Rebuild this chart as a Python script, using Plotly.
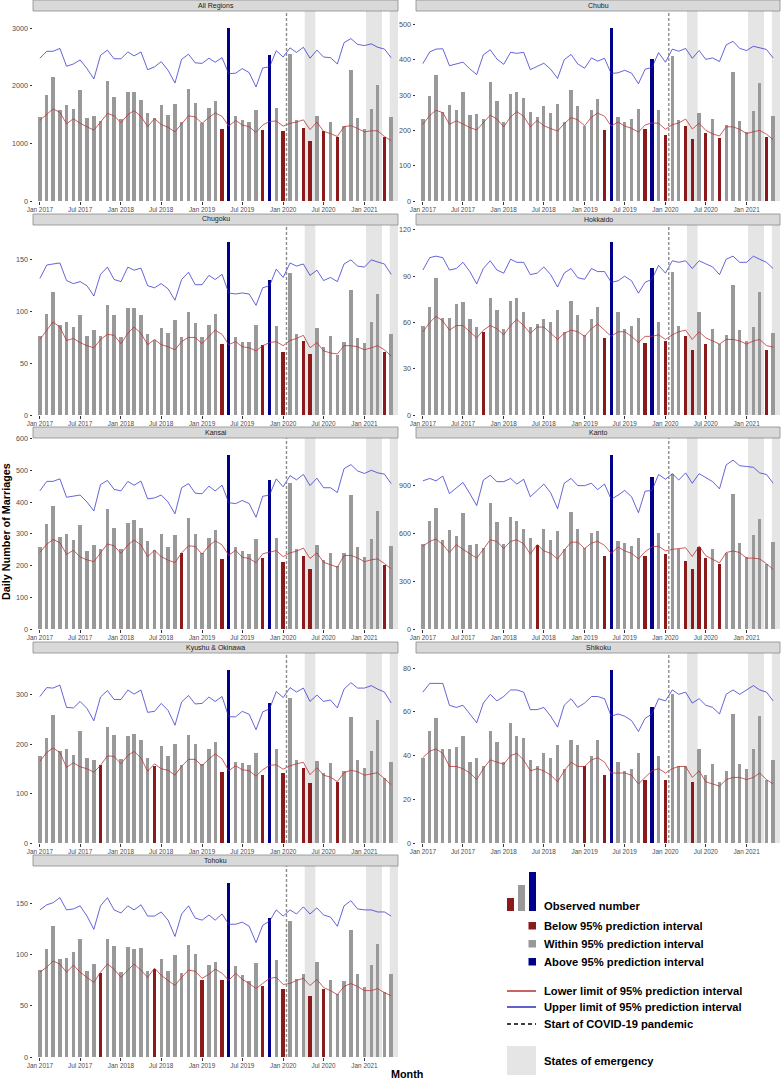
import plotly.graph_objects as go
import pandas as pd

# ---------------- data ----------------
MONTHS = pd.date_range("2017-01-01", "2021-05-01", freq="MS")
X_TICK_START = "2017-01-01"
X_RANGE = ["2016-12-01", "2021-06-01"]
COVID_START = "2020-01-16"
EMERGENCY_STARTS = ["2020-04-07", "2021-01-08", "2021-04-25"]
EMERGENCY_ENDS = ["2020-05-25", "2021-03-21", "2021-06-01"]

PANEL_NAMES = ["All Regions", "Chubu", "Chugoku", "Hokkaido", "Kansai", "Kanto",
               "Kyushu &amp; Okinawa", "Shikoku", "Tohoku"]
Y_DTICKS = [1000, 100, 50, 30, 100, 300, 100, 20, 50]

ALL_OBS = [1460, 1840, 2160, 1580, 1670, 1600, 1930, 1450, 1480, 1390, 2090, 1810, 1430, 1890, 1890, 1760, 1530, 1440,
           1670, 1500, 1690, 1370, 1940, 1700, 1350, 1620, 1730, 1250, 3000, 1480, 1410, 1380, 1580, 1240, 2540, 1620,
           1210, 2560, 1400, 1260, 1050, 1480, 1210, 1380, 1110, 1310, 2280, 1440, 1250, 1600, 2010, 1120, 1460]
ALL_LO = [1400, 1510, 1600, 1540, 1340, 1430, 1350, 1290, 1230, 1370, 1520, 1480, 1360, 1500, 1570, 1470, 1290, 1430,
          1330, 1280, 1200, 1340, 1480, 1460, 1350, 1450, 1530, 1470, 1300, 1400, 1320, 1290, 1190, 1320, 1380, 1390,
          1300, 1350, 1370, 1410, 1240, 1370, 1210, 1170, 1120, 1290, 1310, 1260, 1200, 1220, 1220, 1120, 1050]
ALL_HI = [2480, 2600, 2600, 2650, 2340, 2380, 2450, 2300, 2120, 2530, 2620, 2470, 2470, 2590, 2520, 2590, 2280, 2330,
          2420, 2270, 2050, 2460, 2550, 2400, 2390, 2480, 2410, 2490, 2210, 2220, 2300, 2230, 1980, 2310, 2330, 2610,
          2500, 2660, 2580, 2670, 2480, 2620, 2500, 2490, 2380, 2750, 2820, 2720, 2700, 2730, 2670, 2640, 2490]
ALL_BELOW = [27, 33, 36, 39, 40, 42, 44, 51]

CHUBU_OBS = [232, 297, 357, 253, 272, 259, 310, 244, 245, 232, 337, 283, 224, 304, 309, 291, 251, 238, 270, 250, 276,
             225, 315, 270, 213, 258, 288, 202, 489, 239, 225, 233, 260, 203, 403, 257, 188, 410, 228, 213, 176, 248,
             192, 233, 179, 216, 365, 226, 195, 255, 333, 181, 240]
CHUBU_LO = [217, 242, 257, 250, 217, 227, 218, 208, 201, 222, 243, 232, 210, 238, 253, 240, 210, 228, 213, 205, 198,
            219, 236, 230, 213, 237, 249, 240, 212, 224, 212, 206, 195, 215, 221, 220, 203, 216, 221, 232, 204, 220,
            200, 190, 184, 210, 210, 203, 191, 196, 200, 189, 174]
CHUBU_HI = [389, 422, 430, 431, 383, 389, 393, 374, 358, 414, 428, 402, 387, 421, 418, 421, 372, 381, 390, 373, 347,
            400, 415, 388, 376, 405, 396, 404, 361, 363, 370, 362, 332, 373, 378, 420, 393, 430, 424, 432, 404, 426,
            401, 405, 395, 442, 452, 432, 426, 438, 433, 429, 405]
CHUBU_BELOW = [27, 33, 36, 39, 40, 42, 44, 51]

CHUGOKU_OBS = [76, 98, 119, 87, 90, 85, 97, 76, 82, 76, 106, 97, 75, 103, 103, 97, 78, 73, 84, 79, 92, 75, 100, 89,
               75, 87, 98, 69, 167, 75, 71, 71, 87, 68, 131, 86, 61, 137, 78, 72, 59, 84, 66, 76, 58, 71, 121, 74,
               70, 90, 117, 61, 78]
CHUGOKU_LO = [73, 82, 90, 85, 72, 74, 70, 67, 65, 73, 78, 77, 69, 79, 85, 79, 68, 73, 68, 66, 63, 71, 75, 75, 69, 76,
              82, 78, 68, 71, 66, 65, 62, 67, 70, 71, 67, 72, 74, 77, 65, 70, 62, 60, 59, 67, 67, 66, 63, 65, 67, 63,
              57]
CHUGOKU_HI = [132, 145, 146, 147, 130, 127, 129, 125, 115, 136, 143, 131, 129, 143, 140, 142, 125, 123, 127, 122, 111,
              131, 138, 126, 126, 135, 131, 136, 118, 117, 118, 117, 106, 123, 125, 141, 133, 147, 144, 146, 135, 140,
              130, 133, 129, 146, 150, 144, 143, 150, 148, 146, 136]
CHUGOKU_BELOW = [27, 33, 36, 39, 40, 51]

HOKKAIDO_OBS = [58, 70, 89, 63, 63, 72, 73, 62, 57, 54, 76, 68, 56, 74, 76, 67, 57, 59, 62, 60, 68, 54, 74, 65, 52,
                62, 70, 50, 112, 67, 56, 58, 63, 47, 95, 60, 48, 93, 58, 51, 42, 67, 46, 56, 46, 52, 84, 55, 48, 57,
                80, 42, 53]
HOKKAIDO_LO = [54, 60, 64, 61, 55, 58, 58, 54, 50, 55, 58, 56, 52, 58, 62, 58, 53, 57, 57, 53, 49, 53, 55, 54, 51,
               56, 59, 55, 51, 54, 54, 51, 47, 51, 51, 52, 49, 52, 54, 55, 49, 54, 50, 48, 46, 49, 49, 48, 46, 48, 49,
               45, 44]
HOKKAIDO_HI = [94, 102, 103, 102, 94, 95, 99, 93, 85, 95, 100, 94, 92, 101, 99, 99, 91, 92, 96, 91, 83, 92, 95, 89,
               88, 95, 93, 93, 86, 87, 90, 87, 79, 86, 88, 97, 92, 100, 99, 100, 95, 100, 98, 96, 91, 101, 103, 99, 99,
               103, 101, 99, 95]
HOKKAIDO_BELOW = [9, 27, 33, 36, 39, 40, 42, 51]

KANSAI_OBS = [259, 331, 388, 290, 298, 281, 329, 245, 264, 252, 377, 317, 253, 335, 343, 317, 276, 248, 299, 257, 296,
              241, 350, 300, 240, 288, 311, 219, 547, 259, 245, 237, 283, 223, 470, 286, 210, 459, 251, 230, 190, 266,
              217, 240, 197, 240, 423, 257, 227, 284, 373, 203, 263]
KANSAI_LO = [241, 267, 282, 272, 235, 248, 227, 218, 212, 240, 268, 262, 238, 265, 280, 265, 228, 248, 228, 217, 209,
             240, 262, 260, 236, 262, 278, 265, 232, 248, 226, 222, 209, 237, 243, 247, 228, 240, 245, 255, 222, 240,
             210, 202, 195, 231, 232, 224, 212, 218, 221, 206, 190]
KANSAI_HI = [435, 465, 465, 473, 415, 418, 422, 400, 372, 455, 468, 440, 435, 465, 453, 466, 410, 413, 422, 400, 363,
             445, 458, 428, 426, 450, 435, 453, 398, 395, 405, 395, 352, 418, 422, 473, 448, 483, 470, 487, 452, 475,
             445, 445, 430, 505, 518, 498, 490, 500, 492, 488, 458]
KANSAI_BELOW = [21, 27, 33, 36, 39, 40, 51]

KANTO_OBS = [535, 680, 760, 560, 620, 585, 730, 530, 535, 510, 790, 670, 535, 700, 680, 630, 570, 530, 625, 560, 615,
             500, 735, 630, 510, 605, 615, 460, 1090, 550, 540, 520, 570, 460, 955, 605, 470, 975, 505, 430, 375, 515,
             445, 505, 405, 480, 850, 540, 450, 590, 690, 405, 545]
KANTO_LO = [520, 550, 565, 530, 480, 530, 500, 475, 445, 500, 560, 550, 505, 550, 560, 535, 470, 530, 490, 475, 440,
            495, 545, 545, 505, 540, 550, 525, 475, 515, 490, 475, 440, 485, 515, 520, 490, 500, 505, 510, 455, 520,
            460, 440, 415, 480, 490, 480, 445, 445, 440, 410, 375]
KANTO_HI = [930, 945, 930, 960, 850, 885, 920, 850, 775, 935, 965, 925, 925, 945, 910, 940, 830, 870, 910, 855, 755,
            915, 945, 900, 900, 915, 875, 910, 815, 840, 870, 830, 730, 865, 870, 970, 940, 975, 935, 980, 915, 975,
            950, 925, 880, 1030, 1060, 1025, 1020, 1015, 980, 970, 915]
KANTO_BELOW = [17, 27, 33, 36, 39, 40, 41, 42, 44]

KYUSHU_OBS = [176, 212, 259, 186, 189, 177, 227, 171, 167, 157, 234, 218, 170, 216, 220, 209, 172, 155, 195, 175, 200,
              158, 219, 201, 160, 189, 205, 144, 349, 164, 162, 158, 181, 137, 282, 190, 141, 293, 167, 151, 122, 166,
              142, 162, 124, 146, 255, 168, 151, 186, 249, 132, 164]
KYUSHU_LO = [165, 183, 192, 183, 153, 162, 154, 150, 143, 157, 176, 175, 160, 177, 185, 172, 145, 160, 150, 147, 137,
             155, 169, 169, 156, 170, 180, 170, 146, 156, 148, 146, 135, 148, 157, 158, 149, 156, 160, 163, 138, 152,
             137, 133, 124, 142, 147, 144, 137, 140, 142, 130, 118]
KYUSHU_HI = [296, 314, 313, 319, 274, 273, 286, 272, 247, 295, 308, 290, 290, 309, 301, 309, 264, 266, 282, 268, 238,
             285, 298, 281, 282, 295, 286, 296, 255, 255, 266, 260, 229, 265, 271, 306, 294, 314, 305, 313, 286, 299,
             286, 289, 273, 311, 324, 313, 313, 318, 311, 305, 283]
KYUSHU_BELOW = [9, 17, 27, 33, 36, 39, 40, 44]

SHIKOKU_OBS = [39, 51, 57, 43, 43, 44, 49, 37, 39, 35, 51, 46, 37, 55, 49, 48, 38, 35, 41, 39, 45, 34, 47, 45, 35, 40,
               47, 31, 79, 37, 33, 34, 41, 29, 62, 40, 29, 68, 35, 35, 28, 43, 31, 36, 28, 33, 59, 36, 34, 43, 58, 29,
               38]
SHIKOKU_LO = [39, 42, 43, 41, 35, 35, 34, 32, 29, 34, 38, 37, 36, 40, 41, 38, 33, 34, 33, 31, 28, 33, 37, 35, 35, 38,
              39, 37, 32, 32, 32, 31, 27, 30, 33, 34, 32, 34, 35, 35, 30, 33, 28, 27, 26, 29, 30, 30, 29, 30, 32, 29,
              27]
SHIKOKU_HI = [69, 73, 73, 73, 63, 62, 63, 59, 55, 64, 68, 65, 67, 70, 70, 69, 61, 61, 62, 58, 53, 63, 66, 62, 64, 67,
              67, 66, 58, 59, 58, 56, 51, 57, 59, 66, 65, 70, 68, 69, 64, 66, 63, 62, 59, 68, 70, 68, 70, 72, 70, 69,
              65]
SHIKOKU_BELOW = [24, 27, 33, 36, 40]

TOHOKU_OBS = [85, 106, 128, 96, 97, 103, 116, 84, 91, 82, 116, 109, 83, 108, 106, 107, 84, 86, 96, 84, 100, 82, 110,
              101, 75, 90, 93, 75, 170, 89, 80, 74, 92, 70, 136, 95, 67, 133, 76, 81, 60, 93, 67, 75, 62, 74, 124, 81,
              69, 90, 111, 64, 81]
TOHOKU_LO = [83, 88, 94, 91, 83, 90, 83, 78, 73, 83, 91, 86, 78, 85, 91, 85, 78, 87, 80, 75, 70, 78, 85, 84, 77, 81,
             86, 82, 75, 82, 76, 72, 67, 72, 77, 78, 71, 72, 75, 77, 70, 76, 68, 65, 61, 69, 72, 69, 65, 65, 67, 63,
             60]
TOHOKU_HI = [144, 149, 151, 156, 144, 145, 148, 138, 125, 148, 156, 144, 141, 148, 144, 149, 138, 138, 142, 134, 118,
             140, 148, 136, 134, 139, 134, 140, 130, 130, 132, 128, 112, 129, 133, 144, 138, 144, 140, 147, 140, 146,
             139, 137, 128, 148, 153, 145, 144, 144, 142, 142, 138]
TOHOKU_BELOW = [9, 17, 24, 27, 33, 36, 40, 42]

ABOVE_ALL = [28, 34]

OBS = [ALL_OBS, CHUBU_OBS, CHUGOKU_OBS, HOKKAIDO_OBS, KANSAI_OBS, KANTO_OBS, KYUSHU_OBS, SHIKOKU_OBS, TOHOKU_OBS]
LOWER = [ALL_LO, CHUBU_LO, CHUGOKU_LO, HOKKAIDO_LO, KANSAI_LO, KANTO_LO, KYUSHU_LO, SHIKOKU_LO, TOHOKU_LO]
UPPER = [ALL_HI, CHUBU_HI, CHUGOKU_HI, HOKKAIDO_HI, KANSAI_HI, KANTO_HI, KYUSHU_HI, SHIKOKU_HI, TOHOKU_HI]
BELOW = [ALL_BELOW, CHUBU_BELOW, CHUGOKU_BELOW, HOKKAIDO_BELOW, KANSAI_BELOW, KANTO_BELOW, KYUSHU_BELOW,
         SHIKOKU_BELOW, TOHOKU_BELOW]

LEGEND_TEXTS = ["Observed number", "Below 95% prediction interval", "Within 95% prediction interval",
                "Above 95% prediction interval", "Lower limit of 95% prediction interval",
                "Upper limit of 95% prediction interval", "Start of COVID-19 pandemic", "States of emergency"]

# ---------------- styles ----------------
C_GRAY = "#999999"
C_RED = "#8B1A1A"
C_BLUE = "#00008B"
C_LO = "rgba(185,45,45,0.85)"
C_HI = "rgba(40,40,200,0.8)"
C_SHADE = "#E5E5E5"
FONT = "Liberation Sans, Arial, sans-serif"

W, H = 781, 1080
def px(x): return x / W
def py(y): return 1 - y / H

COL_X = [(33, 398), (416, 780)]
ROW_Y = [(11, 201), (225, 415), (438, 629), (653, 843), (866, 1057)]
STRIP_H = 11
BAR_W = 15 * 24 * 3600 * 1000

fig = go.Figure()
shapes = []
annotations = []
layout = {}

for k, name in enumerate(PANEL_NAMES):
    row, col = divmod(k, 2)
    x0, x1 = COL_X[col]
    y0, y1 = ROW_Y[row]
    s = "" if k == 0 else str(k + 1)
    xa, ya = "x" + s, "y" + s
    obs = OBS[k]
    ymax = 1.1 * max(obs)
    colors = []
    for i in range(len(obs)):
        if i in BELOW[k]:
            colors.append(C_RED)
        elif i in ABOVE_ALL:
            colors.append(C_BLUE)
        else:
            colors.append(C_GRAY)
    fig.add_trace(go.Bar(x=MONTHS, y=obs, width=BAR_W, marker=dict(color=colors, line=dict(width=0)),
                         xaxis=xa, yaxis=ya, showlegend=False))
    fig.add_trace(go.Scatter(x=MONTHS, y=LOWER[k], mode="lines", line=dict(color=C_LO, width=0.9),
                             xaxis=xa, yaxis=ya, showlegend=False))
    fig.add_trace(go.Scatter(x=MONTHS, y=UPPER[k], mode="lines", line=dict(color=C_HI, width=0.9),
                             xaxis=xa, yaxis=ya, showlegend=False))
    layout["xaxis" + s] = dict(domain=[px(x0), px(x1)], anchor=ya, type="date", range=X_RANGE,
                               tick0=X_TICK_START, dtick="M6", tickformat="%b %Y", ticks="outside",
                               ticklen=2.5, tickwidth=0.8, tickcolor="#333333", showgrid=False, zeroline=False,
                               showline=False, automargin=False,
                               tickfont=dict(size=6.4, color="#4d4d4d", family=FONT))
    layout["yaxis" + s] = dict(domain=[py(y1), py(y0)], anchor=xa, range=[0, ymax], tick0=0, dtick=Y_DTICKS[k],
                               ticks="outside", ticklen=2.5, tickwidth=0.8, tickcolor="#333333", showgrid=False,
                               zeroline=False, showline=False, automargin=False,
                               tickfont=dict(size=7.2, color="#4d4d4d", family=FONT))
    for es, ee in zip(EMERGENCY_STARTS, EMERGENCY_ENDS):
        shapes.append(dict(type="rect", xref=xa, yref=ya, x0=es, x1=ee, y0=0, y1=ymax,
                           fillcolor=C_SHADE, line=dict(width=0), layer="below"))
    shapes.append(dict(type="line", xref=xa, yref=ya, x0=COVID_START, x1=COVID_START, y0=0, y1=ymax,
                       line=dict(color="#8c8c8c", width=1.4, dash="3px,2px"), layer="above"))
    # strip
    shapes.append(dict(type="rect", xref="paper", yref="paper", x0=px(x0), x1=px(x1),
                       y0=py(y0), y1=py(y0 - STRIP_H), fillcolor="#D9D9D9",
                       line=dict(color="#8c8c8c", width=0.8)))
    annotations.append(dict(text=name, xref="paper", yref="paper", x=px((x0 + x1) / 2),
                            y=py(y0 - STRIP_H / 2), showarrow=False, xanchor="center", yanchor="middle",
                            font=dict(size=7, color="#1a1a1a", family=FONT)))

# axis titles
annotations.append(dict(text="<b>Daily Number of Marriages</b>", xref="paper", yref="paper", x=px(6),
                        y=py(532), textangle=-90, showarrow=False, xanchor="center", yanchor="middle",
                        font=dict(size=10.8, color="black", family=FONT)))
annotations.append(dict(text="<b>Month</b>", xref="paper", yref="paper", x=px(407), y=py(1074),
                        showarrow=False, xanchor="center", yanchor="middle",
                        font=dict(size=10.8, color="black", family=FONT)))

# ---------------- legend (custom) ----------------
def rect(xa0, xa1, ya0, ya1, color):
    shapes.append(dict(type="rect", xref="paper", yref="paper", x0=px(xa0), x1=px(xa1), y0=py(ya1), y1=py(ya0),
                       fillcolor=color, line=dict(width=0)))

def hline(xa0, xa1, yy, color, dash="solid", width=1.4):
    shapes.append(dict(type="line", xref="paper", yref="paper", x0=px(xa0), x1=px(xa1), y0=py(yy), y1=py(yy),
                       line=dict(color=color, width=width, dash=dash)))

rect(507, 514, 898, 911, C_RED)
rect(518, 525, 885, 911, C_GRAY)
rect(529, 536, 872, 911, C_BLUE)
rect(528.5, 536, 922, 929.5, C_RED)
rect(528.5, 536, 940, 947.5, C_GRAY)
rect(528.5, 536, 958, 965.5, C_BLUE)
hline(507, 536, 991, "#B22222")
hline(507, 536, 1007, "#1E1EB4")
hline(507, 536, 1024, "black", dash="4px,3px")
rect(507, 536, 1046, 1075, C_SHADE)

legend_y = [906, 926, 944, 962, 991, 1007, 1024, 1061]
for t, yy in zip(LEGEND_TEXTS, legend_y):
    annotations.append(dict(text="<b>" + t + "</b>", xref="paper", yref="paper", x=px(542), y=py(yy),
                            showarrow=False, xanchor="left", yanchor="middle",
                            font=dict(size=11.2, color="black", family=FONT)))

fig.update_layout(template="none", width=W, height=H, margin=dict(l=0, r=0, t=0, b=0, pad=0),
                  plot_bgcolor="white", paper_bgcolor="white", bargap=0, shapes=shapes,
                  annotations=annotations, font=dict(family=FONT), **layout)
fig.write_html("out.html", config={"displayModeBar": False},
               post_script="document.body.style.margin='0';document.body.style.overflow='hidden';")
